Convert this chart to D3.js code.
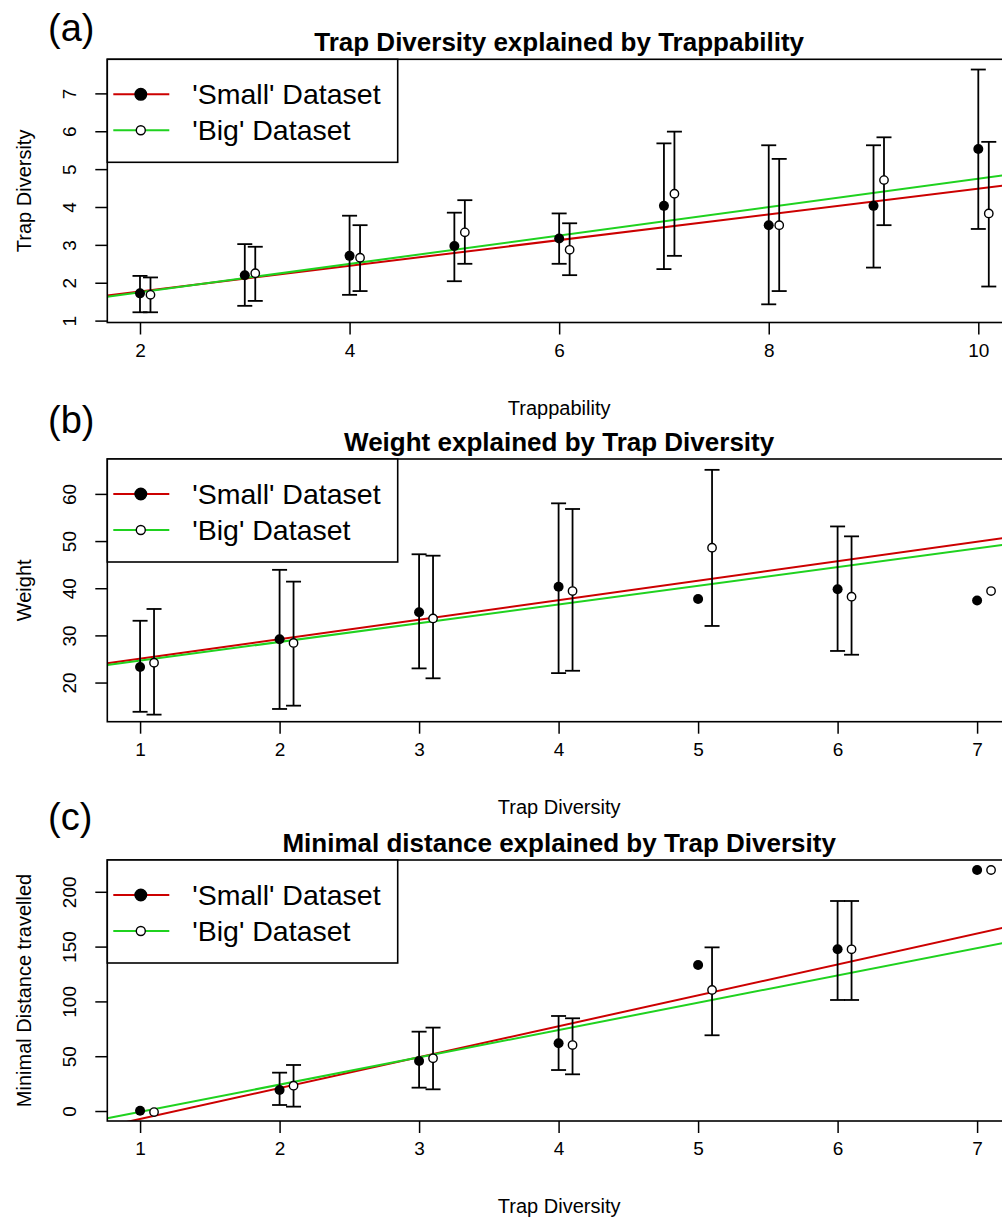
<!DOCTYPE html>
<html>
<head>
<meta charset="utf-8">
<script src="https://cdn.jsdelivr.net/npm/d3@7"></script>
<style>
  body { margin: 0; background: #fff; }
  text { font-family: "Liberation Sans", Arial, sans-serif; fill: #000; }
</style>
</head>
<body>
<div id="chart"></div>
<script>
// ---------- data ----------
var legendLabels = ["'Small' Dataset", "'Big' Dataset"];
var bigOffset = 0.1; // big dataset drawn slightly to the right

// (a) Trap Diversity ~ Trappability
var trapX       = [2, 3, 4, 5, 6, 7, 8, 9, 10];
var divSmall    = [1.72, 2.20, 2.71, 2.97, 3.17, 4.03, 3.52, 4.03, 5.53];
var divSmallLo  = [1.22, 1.39, 1.68, 2.04, 2.50, 2.36, 1.43, 2.40, 3.42];
var divSmallHi  = [2.18, 3.02, 3.77, 3.85, 3.83, 5.68, 5.63, 5.63, 7.63];
var divBig      = [1.68, 2.25, 2.66, 3.33, 2.87, 4.35, 3.52, 4.71, 3.83];
var divBigLo    = [1.22, 1.52, 1.78, 2.50, 2.20, 2.71, 1.78, 3.52, 1.90];
var divBigHi    = [2.14, 2.95, 3.52, 4.18, 3.57, 5.99, 5.27, 5.84, 5.72];
var divFitSmall = [1.086, 0.340];   // intercept, slope
var divFitBig   = [0.997, 0.375];
var trapXLim    = [1.688, 10.312];
var divYLim     = [0.95, 7.9];
var trapXTicks  = [2, 4, 6, 8, 10];
var divYTicks   = [1, 2, 3, 4, 5, 6, 7];

// (b) Weight ~ Trap Diversity
var tdX         = [1, 2, 3, 4, 5, 6, 7];
var wSmall      = [23.3, 29.2, 34.9, 40.3, 37.7, 39.8, 37.4];
var wSmallLo    = [13.8, 14.4, 23.0, 22.0, null, 26.7, null];
var wSmallHi    = [33.1, 43.9, 47.2, 58.0, null, 53.1, null];
var wBig        = [24.2, 28.4, 33.6, 39.4, 48.6, 38.2, 39.4];
var wBigLo      = [13.2, 15.1, 20.9, 22.5, 32.0, 25.9, null];
var wBigHi      = [35.6, 41.4, 46.9, 56.8, 65.1, 51.0, null];
var wFitSmall   = [20.95, 4.13];
var wFitBig     = [20.67, 3.97];
var tdXLim      = [0.765, 7.243];
var wYLim       = [11.7, 67.4];
var tdXTicks    = [1, 2, 3, 4, 5, 6, 7];
var wYTicks     = [20, 30, 40, 50, 60];

// (c) Minimal distance ~ Trap Diversity
var dSmall      = [0.3, 19.2, 45.6, 61.8, 133.2, 147.5, 219.9];
var dSmallLo    = [null, 5.5, 21.3, 37.4, null, 101.3, null];
var dSmallHi    = [null, 35.0, 72.4, 86.7, null, 191.6, null];
var dBig        = [-1.0, 23.1, 48.1, 60.2, 110.4, 147.5, 219.9];
var dBigLo      = [null, 4.0, 19.8, 33.5, 69.1, 101.3, null];
var dBigHi      = [null, 42.0, 76.1, 84.6, 149.3, 191.6, null];
var dFitSmall   = [-35.45, 28.2];
var dFitBig     = [-25.7, 24.9];
var dYLim       = [-9.1, 229];
var dYTicks     = [0, 50, 100, 150, 200];

// ---------- layout ----------
var W = 1002, H = 1222;
var left = 107.3, right = 1011;
var redCol = "#cc0000", greenCol = "#1fd21f";

var panels = [
  { tag: "(a)", tagY: 41, top: 59.3, bottom: 322.5,
    title: "Trap Diversity explained by Trappability",
    xlab: "Trappability", ylab: "Trap Diversity",
    x: trapX, xlim: trapXLim, xticks: trapXTicks, ylim: divYLim, yticks: divYTicks,
    s: [divSmall, divSmallLo, divSmallHi], b: [divBig, divBigLo, divBigHi],
    fs: divFitSmall, fb: divFitBig },
  { tag: "(b)", tagY: 433, top: 459, bottom: 721.7,
    title: "Weight explained by Trap Diversity",
    xlab: "Trap Diversity", ylab: "Weight",
    x: tdX, xlim: tdXLim, xticks: tdXTicks, ylim: wYLim, yticks: wYTicks,
    s: [wSmall, wSmallLo, wSmallHi], b: [wBig, wBigLo, wBigHi],
    fs: wFitSmall, fb: wFitBig },
  { tag: "(c)", tagY: 830, top: 860, bottom: 1121,
    title: "Minimal distance explained by Trap Diversity",
    xlab: "Trap Diversity", ylab: "Minimal Distance travelled",
    x: tdX, xlim: tdXLim, xticks: tdXTicks, ylim: dYLim, yticks: dYTicks,
    s: [dSmall, dSmallLo, dSmallHi], b: [dBig, dBigLo, dBigHi],
    fs: dFitSmall, fb: dFitBig }
];

var svg = d3.select("#chart").append("svg")
  .attr("width", W)
  .attr("height", H);

panels.forEach(function(p, k) {
  var x = d3.scaleLinear().domain(p.xlim).range([left, right]);
  var y = d3.scaleLinear().domain(p.ylim).range([p.bottom, p.top]);
  var g = svg.append("g");

  // clip for the regression lines
  var clipId = "clip" + k;
  svg.append("clipPath").attr("id", clipId)
    .append("rect")
    .attr("x", left).attr("y", p.top)
    .attr("width", right - left).attr("height", p.bottom - p.top);

  // fitted lines (abline style, full width)
  [[p.fs, redCol], [p.fb, greenCol]].forEach(function(f) {
    var a = f[0][0], b = f[0][1];
    g.append("line")
      .attr("clip-path", "url(#" + clipId + ")")
      .attr("x1", x(p.xlim[0])).attr("y1", y(a + b * p.xlim[0]))
      .attr("x2", x(p.xlim[1])).attr("y2", y(a + b * p.xlim[1]))
      .attr("stroke", f[1]).attr("stroke-width", 2);
  });

  // error bars
  function bars(vals, dx) {
    p.x.forEach(function(xv, i) {
      var lo = vals[1][i], hi = vals[2][i];
      if (lo == null || hi == null) return;
      var cx = x(xv + dx);
      g.append("line")
        .attr("x1", cx).attr("x2", cx).attr("y1", y(lo)).attr("y2", y(hi))
        .attr("stroke", "#000").attr("stroke-width", 1.8);
      [lo, hi].forEach(function(v) {
        g.append("line")
          .attr("x1", cx - 7.5).attr("x2", cx + 7.5).attr("y1", y(v)).attr("y2", y(v))
          .attr("stroke", "#000").attr("stroke-width", 1.8);
      });
    });
  }
  bars(p.s, 0);
  bars(p.b, bigOffset);

  // points
  g.selectAll(".ps").data(p.x).enter().append("circle")
    .attr("cx", function(d) { return x(d); })
    .attr("cy", function(d, i) { return y(p.s[0][i]); })
    .attr("r", 5).attr("fill", "#000");
  g.selectAll(".pb").data(p.x).enter().append("circle")
    .attr("cx", function(d) { return x(d + bigOffset); })
    .attr("cy", function(d, i) { return y(p.b[0][i]); })
    .attr("r", 4.2).attr("fill", "#fff")
    .attr("stroke", "#000").attr("stroke-width", 1.4);

  // box
  g.append("rect")
    .attr("x", left).attr("y", p.top)
    .attr("width", right - left).attr("height", p.bottom - p.top)
    .attr("fill", "none").attr("stroke", "#000").attr("stroke-width", 1.6);

  // x axis
  var xa = g.append("g")
    .attr("transform", "translate(0," + p.bottom + ")")
    .call(d3.axisBottom(x).tickValues(p.xticks).tickSize(12).tickPadding(9)
      .tickFormat(d3.format("d")));
  xa.select(".domain").remove();
  xa.selectAll("line").attr("stroke-width", 1.5);
  xa.selectAll("text").attr("font-size", 19).attr("font-family", "Liberation Sans, Arial, sans-serif");

  // y axis, labels parallel to the axis
  var ya = g.append("g")
    .attr("transform", "translate(" + left + ",0)")
    .call(d3.axisLeft(y).tickValues(p.yticks).tickSize(12).tickFormat(d3.format("d")));
  ya.select(".domain").remove();
  ya.selectAll("line").attr("stroke-width", 1.5);
  ya.selectAll("text")
    .attr("x", null).attr("dy", null)
    .attr("transform", "translate(-31,0) rotate(-90)")
    .attr("text-anchor", "middle")
    .attr("font-size", 19).attr("font-family", "Liberation Sans, Arial, sans-serif");

  // titles and axis labels
  g.append("text")
    .attr("x", (left + right) / 2).attr("y", p.top - 8)
    .attr("text-anchor", "middle")
    .attr("font-size", 26).attr("font-weight", "bold")
    .text(p.title);
  g.append("text")
    .attr("x", 48).attr("y", p.tagY)
    .attr("font-size", 38)
    .text(p.tag);
  g.append("text")
    .attr("x", (left + right) / 2).attr("y", p.bottom + 92)
    .attr("text-anchor", "middle")
    .attr("font-size", 20)
    .text(p.xlab);
  g.append("text")
    .attr("transform", "translate(31," + (p.top + p.bottom) / 2 + ") rotate(-90)")
    .attr("text-anchor", "middle")
    .attr("font-size", 20)
    .text(p.ylab);

  // legend
  var lg = g.append("g").attr("transform", "translate(" + left + "," + p.top + ")");
  lg.append("rect")
    .attr("width", 290.4).attr("height", 103)
    .attr("fill", "#fff").attr("stroke", "#000").attr("stroke-width", 1.6);
  legendLabels.forEach(function(lab, i) {
    var ry = 35 + i * 36;
    lg.append("line")
      .attr("x1", 6).attr("x2", 62).attr("y1", ry).attr("y2", ry)
      .attr("stroke", i === 0 ? redCol : greenCol).attr("stroke-width", 2);
    lg.append("circle")
      .attr("cx", 33.5).attr("cy", ry)
      .attr("r", i === 0 ? 5.8 : 4.5)
      .attr("fill", i === 0 ? "#000" : "#fff")
      .attr("stroke", "#000").attr("stroke-width", 1.4);
    lg.append("text")
      .attr("x", 85).attr("y", ry + 10)
      .attr("font-size", 28.5)
      .text(lab);
  });
});
</script>
</body>
</html>
